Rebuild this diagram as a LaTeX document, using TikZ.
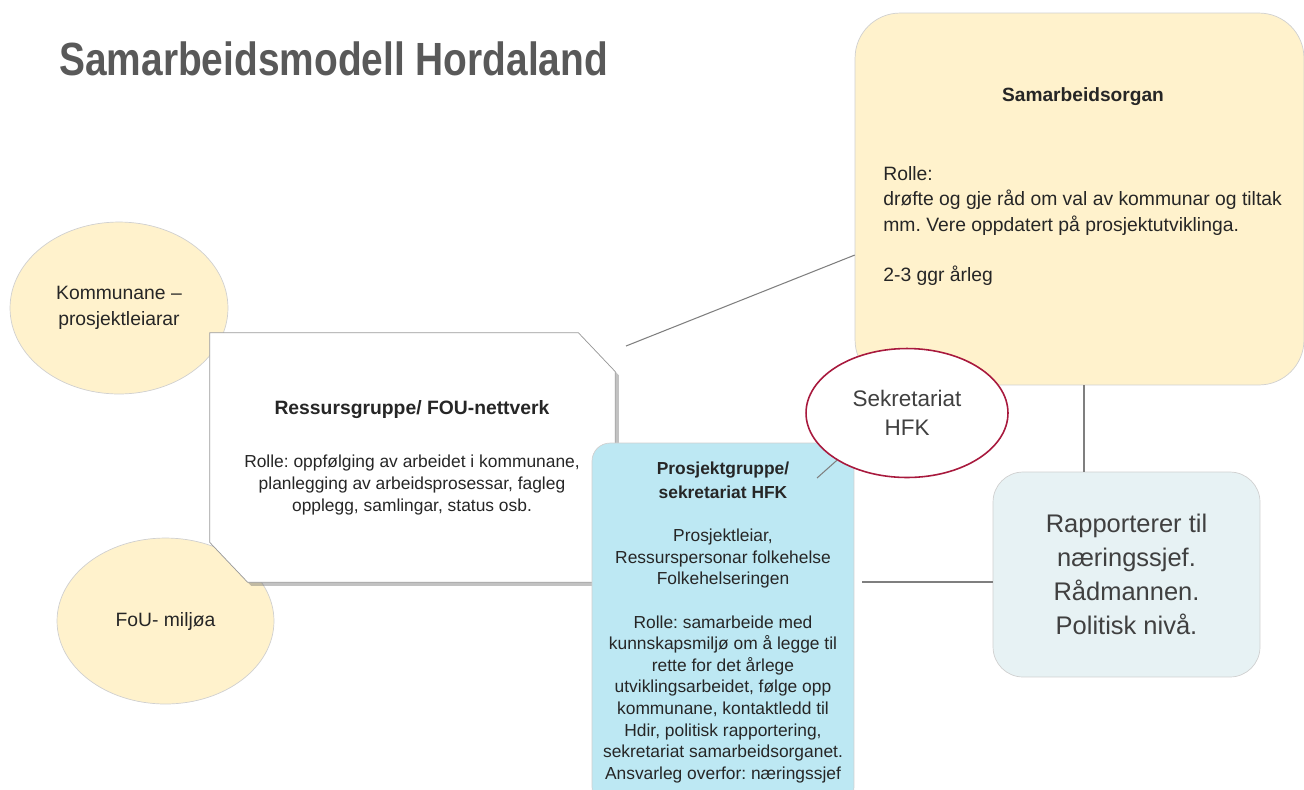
\documentclass[tikz,border=0pt]{standalone}
\usepackage{fontspec}
\setmainfont{Liberation Sans}
\newfontfamily\titlefont[FakeStretch=0.835]{Liberation Sans}
\usetikzlibrary{shapes.geometric,shadows,calc}

\definecolor{titlegray}{HTML}{595959}
\definecolor{txt}{HTML}{262626}
\definecolor{softtxt}{HTML}{404040}
\definecolor{paleyellow}{HTML}{FFF2CC}
\definecolor{paleblue}{HTML}{BDE8F3}
\definecolor{mistblue}{HTML}{E7F2F4}
\definecolor{wine}{HTML}{A8193D}
\definecolor{rimgray}{HTML}{D0D0D0}
\definecolor{linegray}{HTML}{7F7F7F}

\begin{document}
\frenchspacing
\begin{tikzpicture}[x=0.02cm, y=-0.02cm,
    bubble/.style={ellipse, draw=rimgray, fill=paleyellow, inner sep=0pt, text=txt,
        align=center, font=\fontsize{11}{14.7}\selectfont},
    roundbox/.style={rectangle, rounded corners=#1, draw=rimgray, inner sep=0pt},
    link/.style={draw=linegray, line width=0.6pt}]

    \useasboundingbox (0,0) rectangle (1304,789);
    \clip (0,0) rectangle (1304,789);

    % Title
    \node[anchor=west, inner sep=0pt, text=titlegray,
        font=\titlefont\bfseries\fontsize{26.5}{30}\selectfont] (title) at (59,59) {Samarbeidsmodell Hordaland};

    % Samarbeidsorgan
    \node[roundbox=0.9cm, fill=paleyellow, minimum width=8.98cm, minimum height=7.44cm] (samorg) at (1079.5,199) {};
    \node[text=txt, font=\bfseries\fontsize{10.9}{13}\selectfont] (samhead) at (1083,97) {Samarbeidsorgan};
    \node[anchor=west, align=left, inner sep=0pt, text=txt, font=\fontsize{11}{14.5}\selectfont] (sambody) at (883,226)
        {Rolle:\\drøfte og gje råd om val av kommunar og tiltak\\mm. Vere oppdatert på prosjektutviklinga.\\[14.5pt]2-3 ggr årleg};

    % Kommunane and FoU
    \node[bubble, minimum width=4.36cm, minimum height=3.44cm] (kommune) at (119,308) {Kommunane –\\prosjektleiarar};
    \node[bubble, minimum width=4.34cm, minimum height=3.32cm] (fou) at (165.5,621) {FoU- miljøa};

    % Ressursgruppe
    \node[minimum width=8.1cm, minimum height=4.98cm, inner sep=0pt] (ress) at (412.5,457.5) {};
    \draw[draw=gray!80, fill=white, drop shadow={shadow xshift=2pt, shadow yshift=-2pt, opacity=0.4, fill=black!60}]
        (ress.north west) -- ($(ress.north east)+(-37,0)$) -- ($(ress.north east)+(0,39)$) -- (ress.south east)
        -- ($(ress.south west)+(38,0)$) -- ($(ress.south west)+(0,-40)$) -- cycle;
    \node[text=txt, font=\bfseries\fontsize{11}{13}\selectfont] (resshead) at (412,410) {Ressursgruppe/ FOU-nettverk};
    \node[align=center, text=txt, font=\fontsize{9.9}{12.5}\selectfont] (ressbody) at (412,485)
        {Rolle: oppfølging av arbeidet i kommunane,\\planlegging av arbeidsprosessar, fagleg\\opplegg, samlingar, status osb.};

    % Prosjektgruppe
    \node[roundbox=0.36cm, fill=paleblue, minimum width=5.24cm, minimum height=7.24cm] (prosj) at (723,624) {};
    \node[align=center, text=txt, font=\bfseries\fontsize{9.9}{13.6}\selectfont] (prohead) at (723,480)
        {Prosjektgruppe/\\sekretariat HFK};
    \node[align=center, text=txt, font=\fontsize{9.9}{12.3}\selectfont] (probody) at (723,656)
        {Prosjektleiar,\\Ressurspersonar folkehelse\\Folkehelseringen\\[12.3pt]Rolle: samarbeide med\\kunnskapsmiljø om å legge til\\rette for det årlege\\utviklingsarbeidet, følge opp\\kommunane, kontaktledd til\\Hdir, politisk rapportering,\\sekretariat samarbeidsorganet.\\Ansvarleg overfor: næringssjef};

    % Sekretariat
    \node[ellipse, draw=wine, line width=0.9pt, fill=white, minimum width=4.04cm, minimum height=2.58cm,
        align=center, text=softtxt, font=\fontsize{12.8}{16.4}\selectfont] (sekr) at (907,413) {Sekretariat\\HFK};

    % Rapporterer
    \node[roundbox=0.6cm, fill=mistblue, minimum width=5.34cm, minimum height=4.1cm, align=center,
        text=softtxt, font=\fontsize{14.5}{19.3}\selectfont] (rapp) at (1126.5,574.5)
        {Rapporterer til\\næringssjef.\\Rådmannen.\\Politisk nivå.};

    % Connectors
    \coordinate (ressend) at (626,346);
    \coordinate (proend) at (817,478);
    \coordinate (rappend) at (862,582);
    \draw[link] (ressend) -- (samorg.194.5);
    \draw[link] ($(samorg.south)+(4.5,0)$) -- ($(samorg.south |- rapp.north)+(4.5,0)$);
    \draw[link] (proend) -- (sekr.214);
    \draw[link] (rappend) -- (rappend -| rapp.west);
\end{tikzpicture}
\end{document}
